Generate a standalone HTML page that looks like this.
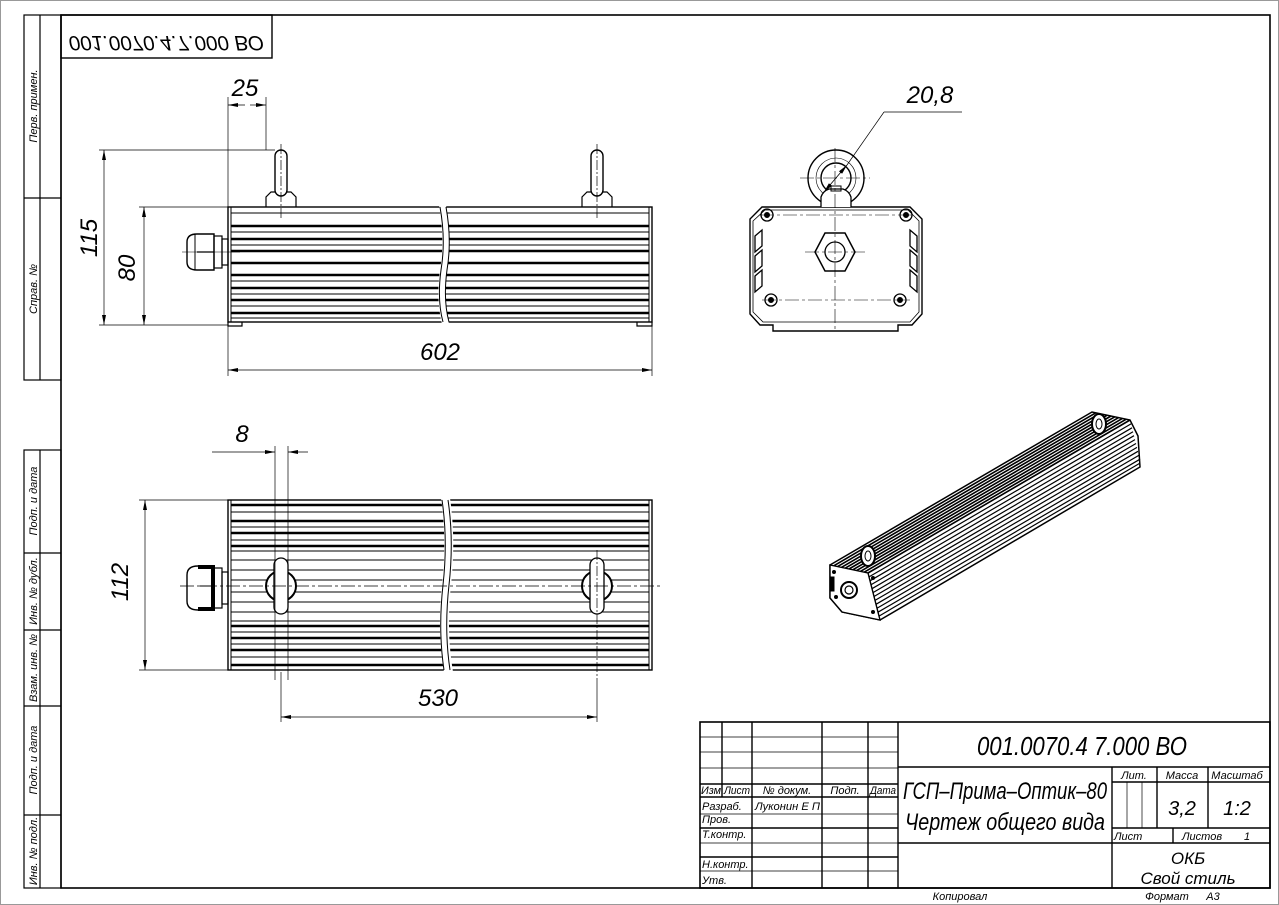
<!DOCTYPE html>
<html><head><meta charset="utf-8"><style>
html,body{margin:0;padding:0;background:#fff;}
svg{display:block}
text{font-family:"Liberation Sans","DejaVu Sans",sans-serif;font-style:italic;fill:#000}
</style></head><body>
<svg width="1279" height="905" viewBox="0 0 1279 905" xmlns="http://www.w3.org/2000/svg">
<defs>
<marker id="a" viewBox="0 0 10 4" refX="10" refY="2" markerWidth="10" markerHeight="4" orient="auto-start-reverse" markerUnits="userSpaceOnUse"><path d="M0,0L10,2L0,4z" fill="#000"/></marker>
</defs>
<rect x="0.5" y="0.5" width="1278" height="904" fill="none" stroke="#999" stroke-width="1"/>
<rect x="61" y="15" width="1209" height="873" fill="none" stroke="#000" stroke-width="1.6"/>
<g fill="none" stroke="#000" stroke-width="1.2">
<rect x="24" y="15" width="37" height="365"/><line x1="40" y1="15" x2="40" y2="380"/><line x1="24" y1="198" x2="61" y2="198"/>
<rect x="24" y="450" width="37" height="438"/><line x1="40" y1="450" x2="40" y2="888"/>
<line x1="24" y1="553" x2="61" y2="553"/><line x1="24" y1="630" x2="61" y2="630"/><line x1="24" y1="706" x2="61" y2="706"/><line x1="24" y1="815" x2="61" y2="815"/>
</g>
<g font-size="11">
<text transform="translate(37,106) rotate(-90)" text-anchor="middle">Перв. примен.</text>
<text transform="translate(37,289) rotate(-90)" text-anchor="middle">Справ. №</text>
<text transform="translate(37,501) rotate(-90)" text-anchor="middle">Подп. и дата</text>
<text transform="translate(37,591) rotate(-90)" text-anchor="middle">Инв. № дубл.</text>
<text transform="translate(37,668) rotate(-90)" text-anchor="middle">Взам. инв. №</text>
<text transform="translate(37,760) rotate(-90)" text-anchor="middle">Подп. и дата</text>
<text transform="translate(37,851) rotate(-90)" text-anchor="middle">Инв. № подл.</text>
</g>
<rect x="61" y="15" width="211" height="43" fill="none" stroke="#000" stroke-width="1.4"/>
<text transform="translate(166,29) scale(1,-1)" text-anchor="middle" font-size="21" textLength="195" lengthAdjust="spacingAndGlyphs" dy="-7">001.0070.4.7.000 ВО</text>

<!-- ===== TOP VIEW ===== -->
<g stroke="#000" fill="none">
<rect x="228" y="207" width="424" height="115" stroke-width="1.4"/>
<g stroke-width="2.5">
<line x1="231" y1="226" x2="649" y2="226"/><line x1="231" y1="239" x2="649" y2="239"/>
<line x1="231" y1="251" x2="649" y2="251"/><line x1="231" y1="263" x2="649" y2="263"/>
<line x1="231" y1="275" x2="649" y2="275"/><line x1="231" y1="288" x2="649" y2="288"/>
<line x1="231" y1="300" x2="649" y2="300"/><line x1="231" y1="313" x2="649" y2="313"/>
</g>
<g stroke-width="1"><line x1="231" y1="213" x2="649" y2="213"/><line x1="231" y1="232" x2="649" y2="232"/><line x1="231" y1="245" x2="649" y2="245"/><line x1="231" y1="281" x2="649" y2="281"/><line x1="231" y1="294" x2="649" y2="294"/><line x1="231" y1="306" x2="649" y2="306"/><line x1="231" y1="318" x2="649" y2="318"/></g>
<line x1="231" y1="207" x2="231" y2="322" stroke-width="1"/><line x1="649" y1="207" x2="649" y2="322" stroke-width="1"/>
<path d="M440,205 Q446,240 441,270 Q437,300 443,324 L448,324 Q442,300 446,270 Q451,240 445,205Z" fill="#fff" stroke="#fff" stroke-width="2"/>
<path d="M440,207 Q446,240 441,270 Q437,300 443,322" stroke-width="1"/>
<path d="M446,207 Q452,240 447,270 Q443,300 449,322" stroke-width="1"/>
<path d="M228,322 v4 h14 v-4 M637,322 v4 h15 v-4" stroke-width="1.2"/>
<path d="M266,207 v-10 l5,-5 h20 l5,5 v10" stroke-width="1.2"/>
<rect x="275" y="150" width="12" height="46" rx="6" fill="#fff" stroke-width="1.4"/>
<path d="M582,207 v-10 l5,-5 h20 l5,5 v10" stroke-width="1.2"/>
<rect x="591" y="150" width="12" height="46" rx="6" fill="#fff" stroke-width="1.4"/>
<line x1="281" y1="144" x2="281" y2="220" stroke-width="0.7" stroke-dasharray="10,2,2,2"/>
<line x1="597" y1="144" x2="597" y2="220" stroke-width="0.7" stroke-dasharray="10,2,2,2"/>
<path d="M197,234 h17 v36 h-17 q-10,0 -10,-8 v-20 q0,-8 10,-8z" stroke-width="1.4"/>
<line x1="197" y1="252" x2="214" y2="252" stroke-width="1.2"/>
<line x1="195" y1="234" x2="195" y2="270" stroke-width="1"/>
<rect x="214" y="236" width="8" height="32" stroke-width="1.2"/>
<rect x="222" y="239" width="6" height="26" stroke-width="1.2"/>
<line x1="182" y1="252" x2="240" y2="252" stroke-width="0.6"/>
</g>
<g stroke="#000" stroke-width="0.7" fill="none">
<line x1="228" y1="97" x2="228" y2="207"/><line x1="266" y1="97" x2="266" y2="150"/>
<line x1="228" y1="105" x2="245" y2="105" marker-start="url(#a)"/><line x1="250" y1="105" x2="266" y2="105" marker-end="url(#a)"/>
<line x1="99" y1="150" x2="275" y2="150"/><line x1="99" y1="325" x2="228" y2="325"/>
<line x1="139" y1="207" x2="228" y2="207"/>
<line x1="104" y1="150" x2="104" y2="325" marker-start="url(#a)" marker-end="url(#a)"/>
<line x1="144" y1="207" x2="144" y2="325" marker-start="url(#a)" marker-end="url(#a)"/>
<line x1="228" y1="326" x2="228" y2="376"/><line x1="652" y1="326" x2="652" y2="376"/>
<line x1="228" y1="370" x2="652" y2="370" marker-start="url(#a)" marker-end="url(#a)"/>
</g>
<text x="245" y="96" font-size="24" text-anchor="middle">25</text>
<text transform="translate(97,238) rotate(-90)" font-size="24" text-anchor="middle">115</text>
<text transform="translate(135,268) rotate(-90)" font-size="24" text-anchor="middle">80</text>
<text x="440" y="360" font-size="24" text-anchor="middle">602</text>

<!-- ===== BOTTOM VIEW ===== -->
<g stroke="#000" fill="none">
<rect x="228" y="500" width="424" height="170" stroke-width="1.4"/>
<line x1="231" y1="500" x2="231" y2="670" stroke-width="1"/><line x1="649" y1="500" x2="649" y2="670" stroke-width="1"/>
<g stroke-width="2.5">
<line x1="231" y1="505" x2="649" y2="505"/><line x1="231" y1="521" x2="649" y2="521"/><line x1="231" y1="533" x2="649" y2="533"/><line x1="231" y1="546" x2="649" y2="546"/>
<line x1="231" y1="626" x2="649" y2="626"/><line x1="231" y1="638" x2="649" y2="638"/><line x1="231" y1="650" x2="649" y2="650"/><line x1="231" y1="665" x2="649" y2="665"/>
</g>
<g stroke-width="1">
<line x1="231" y1="512" x2="649" y2="512"/><line x1="231" y1="527" x2="649" y2="527"/><line x1="231" y1="540" x2="649" y2="540"/><line x1="231" y1="551" x2="649" y2="551"/>
<line x1="231" y1="560" x2="649" y2="560"/><line x1="231" y1="570" x2="649" y2="570"/><line x1="231" y1="580" x2="649" y2="580"/><line x1="231" y1="592" x2="649" y2="592"/><line x1="231" y1="602" x2="649" y2="602"/><line x1="231" y1="612" x2="649" y2="612"/><line x1="231" y1="621" x2="649" y2="621"/><line x1="231" y1="632" x2="649" y2="632"/><line x1="231" y1="644" x2="649" y2="644"/><line x1="231" y1="657" x2="649" y2="657"/>
</g>
<path d="M442,498 Q448,540 443,585 Q438,630 445,672 L452,672 Q445,630 450,585 Q455,540 449,498Z" fill="#fff" stroke="#fff" stroke-width="2"/>
<path d="M442,500 Q448,540 443,585 Q438,630 444,670" stroke-width="1"/>
<path d="M448,500 Q454,540 449,585 Q444,630 450,670" stroke-width="1"/>
<circle cx="281" cy="586" r="15" fill="#fff" stroke-width="2"/>
<rect x="274" y="558" width="14" height="56" rx="7" fill="#fff" stroke-width="1.3"/>
<circle cx="597" cy="586" r="15" fill="#fff" stroke-width="2"/>
<rect x="590" y="558" width="14" height="56" rx="7" fill="#fff" stroke-width="1.3"/>
<line x1="180" y1="586" x2="660" y2="586" stroke-width="0.7" stroke-dasharray="14,3,3,3"/>
<line x1="597" y1="550" x2="597" y2="680" stroke-width="0.7" stroke-dasharray="10,2,2,2"/>
<path d="M198,566 h16 v44 h-16 q-11,0 -11,-9 v-26 q0,-9 11,-9z" stroke-width="1.4"/>
<path d="M198,567 h15 v42 h-15" stroke-width="4"/>
<line x1="200" y1="586" x2="212" y2="586" stroke-width="1"/>
<rect x="214" y="568" width="8" height="40" stroke-width="1.2"/>
<rect x="222" y="572" width="6" height="32" stroke-width="1.2"/>
</g>
<g stroke="#000" stroke-width="0.7" fill="none">
<line x1="275" y1="446" x2="275" y2="680"/><line x1="288" y1="446" x2="288" y2="680"/>
<line x1="212" y1="452" x2="275" y2="452" marker-end="url(#a)"/><line x1="308" y1="452" x2="288" y2="452" marker-end="url(#a)"/>
<line x1="139" y1="500" x2="228" y2="500"/><line x1="139" y1="670" x2="228" y2="670"/>
<line x1="145" y1="500" x2="145" y2="670" marker-start="url(#a)" marker-end="url(#a)"/>
<line x1="281" y1="672" x2="281" y2="722"/><line x1="597" y1="680" x2="597" y2="722"/>
<line x1="281" y1="717" x2="597" y2="717" marker-start="url(#a)" marker-end="url(#a)"/>
</g>
<text x="242" y="442" font-size="24" text-anchor="middle">8</text>
<text transform="translate(128,582) rotate(-90)" font-size="24" text-anchor="middle">112</text>
<text x="438" y="706" font-size="24" text-anchor="middle">530</text>

<!-- ===== SIDE VIEW ===== -->
<g stroke="#000" fill="none">
<path d="M762,207 H910 L922,219 V314 L912,325 H898 V331 H773 V325 H760 L750,314 V219Z" stroke-width="1.4"/>
<path d="M765,210 H908 L919,221 V312 L910,322 H763 L753,312 V221Z" stroke-width="0.8"/>
<circle cx="836" cy="178" r="28" stroke-width="1.4"/>
<circle cx="836" cy="178" r="20" stroke-width="0.6"/>
<circle cx="836" cy="178" r="15" stroke-width="1.4"/>
<path d="M821,207 v-10 q2,-6 8,-8 h14 q6,2 8,8 v10" fill="#fff" stroke-width="1.3"/>
<rect x="831" y="186" width="10" height="5" stroke-width="1"/>
<g stroke-width="1.3"><circle cx="767" cy="215" r="6"/><circle cx="906" cy="215" r="6"/><circle cx="771" cy="300" r="6"/><circle cx="900" cy="300" r="6"/></g>
<g fill="#000"><circle cx="767" cy="215" r="2.5"/><circle cx="906" cy="215" r="2.5"/><circle cx="771" cy="300" r="2.5"/><circle cx="900" cy="300" r="2.5"/></g>
<polygon points="825,233 845,233 855,252 845,271 825,271 815,252" stroke-width="1.5"/>
<circle cx="835" cy="252" r="10" stroke-width="1.3"/>
<g stroke-width="1.3">
<path d="M755,236 l7,-6 v16 l-7,6z"/><path d="M755,256 l7,-6 v16 l-7,6z"/><path d="M755,276 l7,-6 v16 l-7,6z"/>
<path d="M917,236 l-7,-6 v16 l7,6z"/><path d="M917,256 l-7,-6 v16 l7,6z"/><path d="M917,276 l-7,-6 v16 l7,6z"/>
</g>
<g stroke-width="0.6" stroke-dasharray="14,3,3,3">
<line x1="760" y1="215" x2="912" y2="215"/><line x1="762" y1="300" x2="910" y2="300"/>
<line x1="835" y1="148" x2="835" y2="330"/><line x1="800" y1="178" x2="870" y2="178"/>
<line x1="805" y1="252" x2="865" y2="252"/>
</g>
<line x1="824" y1="192" x2="847" y2="165" stroke-width="0.8" marker-start="url(#a)" marker-end="url(#a)"/>
<line x1="847" y1="165" x2="884" y2="112" stroke-width="0.7"/><line x1="884" y1="112" x2="962" y2="112" stroke-width="0.7"/>
</g>
<text x="930" y="103" font-size="24" text-anchor="middle">20,8</text>

<!-- ===== ISO VIEW ===== -->
<g stroke="#000" fill="none">
<path d="M830,565 L1092,412 L1130,420 L1138,436 L1140,467 L880,620 L842,612 L830,598 Z" fill="#fff" stroke-width="1.5"/>
<g stroke-width="1.6">
<line x1="833.8" y1="565.8" x2="1095.8" y2="412.8"/><line x1="837.6" y1="566.6" x2="1099.6" y2="413.6"/>
<line x1="841.4" y1="567.4" x2="1103.4" y2="414.4"/><line x1="845.2" y1="568.2" x2="1107.2" y2="415.2"/>
<line x1="849" y1="569" x2="1111" y2="416"/><line x1="852.8" y1="569.8" x2="1114.8" y2="416.8"/>
<line x1="856.6" y1="570.6" x2="1118.6" y2="417.6"/><line x1="860.4" y1="571.4" x2="1122.4" y2="418.4"/>
<line x1="864.2" y1="572.2" x2="1126.2" y2="419.2"/>
<line x1="868" y1="573" x2="1130" y2="420"/>
</g>
<g stroke-width="1.2">
<line x1="869" y1="576.9" x2="1131" y2="423.9"/><line x1="870" y1="580.8" x2="1132" y2="427.8"/>
<line x1="871" y1="584.75" x2="1133" y2="431.75"/><line x1="872" y1="588.7" x2="1134" y2="435.7"/>
<line x1="873" y1="592.6" x2="1135" y2="439.6"/><line x1="874" y1="596.5" x2="1136" y2="443.5"/>
<line x1="875" y1="600.4" x2="1137" y2="447.4"/><line x1="876" y1="604.3" x2="1138" y2="451.3"/>
<line x1="877" y1="608.25" x2="1139" y2="455.25"/><line x1="878" y1="612.2" x2="1140" y2="459.2"/>
<line x1="879" y1="616.1" x2="1140" y2="463.1"/>
</g>
<path d="M830,565 L868,573 L880,620 L842,612 L830,598 Z" fill="#fff" stroke-width="1.4"/>
<circle cx="849" cy="590" r="8" stroke-width="2"/><circle cx="849" cy="590" r="4" stroke-width="1.2"/>
<g fill="#000"><circle cx="834" cy="572" r="1.5"/><circle cx="873" cy="578" r="1.5"/><circle cx="836" cy="597" r="1.5"/><circle cx="873" cy="612" r="1.5"/><rect x="831" y="577" width="3" height="14"/></g>
<ellipse cx="868" cy="556" rx="7" ry="10" stroke-width="2" fill="#fff"/><ellipse cx="868" cy="556" rx="3" ry="5" stroke-width="1"/>
<ellipse cx="1099" cy="424" rx="7" ry="10" stroke-width="2" fill="#fff"/><ellipse cx="1099" cy="424" rx="3" ry="5" stroke-width="1"/>
</g>

<!-- ===== TITLE BLOCK ===== -->
<g stroke="#000" fill="none">
<rect x="700" y="722" width="570" height="166" stroke-width="1.6"/>
<g stroke-width="1.4">
<line x1="722" y1="722" x2="722" y2="797"/><line x1="752" y1="722" x2="752" y2="888"/><line x1="822" y1="722" x2="822" y2="888"/><line x1="868" y1="722" x2="868" y2="888"/><line x1="898" y1="722" x2="898" y2="888"/>
<line x1="700" y1="784" x2="898" y2="784"/><line x1="700" y1="797" x2="898" y2="797"/>
<line x1="898" y1="767" x2="1270" y2="767"/><line x1="898" y1="843" x2="1270" y2="843"/>
<line x1="1112" y1="767" x2="1112" y2="888"/><line x1="1157" y1="767" x2="1157" y2="828"/><line x1="1208" y1="767" x2="1208" y2="828"/>
<line x1="1112" y1="782" x2="1270" y2="782"/><line x1="1112" y1="828" x2="1270" y2="828"/><line x1="1173" y1="828" x2="1173" y2="843"/>
<line x1="700" y1="828" x2="898" y2="828"/><line x1="700" y1="857" x2="898" y2="857"/>
</g>
<g stroke-width="0.7">
<line x1="700" y1="737" x2="898" y2="737"/><line x1="700" y1="752" x2="898" y2="752"/><line x1="700" y1="768" x2="898" y2="768"/>
<line x1="700" y1="814" x2="898" y2="814"/><line x1="700" y1="843" x2="898" y2="843"/><line x1="700" y1="871" x2="898" y2="871"/>
<line x1="1127" y1="782" x2="1127" y2="828"/><line x1="1142" y1="782" x2="1142" y2="828"/>
</g>
</g>
<g font-size="11">
<text x="701" y="794" textLength="20" lengthAdjust="spacingAndGlyphs">Изм</text><text x="724" y="794" textLength="26" lengthAdjust="spacingAndGlyphs">Лист</text><text x="787" y="794" text-anchor="middle">№ докум.</text><text x="845" y="794" text-anchor="middle">Подп.</text><text x="870" y="794" textLength="26" lengthAdjust="spacingAndGlyphs">Дата</text>
<text x="702" y="810">Разраб.</text><text x="755" y="810" textLength="65" lengthAdjust="spacingAndGlyphs">Луконин Е П</text>
<text x="702" y="823">Пров.</text><text x="702" y="838">Т.контр.</text>
<text x="702" y="868">Н.контр.</text><text x="702" y="884">Утв.</text>
<text x="1134" y="779" text-anchor="middle">Лит.</text><text x="1182" y="779" text-anchor="middle">Масса</text><text x="1237" y="779" text-anchor="middle">Масштаб</text>
<text x="1114" y="840">Лист</text><text x="1182" y="840">Листов</text><text x="1244" y="840">1</text>
<text x="960" y="900" text-anchor="middle">Копировал</text><text x="1167" y="900" text-anchor="middle">Формат</text><text x="1213" y="900" text-anchor="middle">А3</text>
</g>
<text x="1082" y="755" font-size="26" text-anchor="middle" textLength="210" lengthAdjust="spacingAndGlyphs">001.0070.4 7.000 ВО</text>
<text x="1005" y="799" font-size="24" text-anchor="middle" textLength="204" lengthAdjust="spacingAndGlyphs">ГСП–Прима–Оптик–80</text>
<text x="1005" y="830" font-size="24" text-anchor="middle" textLength="200" lengthAdjust="spacingAndGlyphs">Чертеж общего вида</text>
<text x="1182" y="815" font-size="20" text-anchor="middle">3,2</text><text x="1237" y="815" font-size="20" text-anchor="middle">1:2</text>
<text x="1188" y="864" font-size="17" text-anchor="middle">ОКБ</text><text x="1188" y="884" font-size="17" text-anchor="middle">Свой стиль</text>
</svg>
</body></html>
